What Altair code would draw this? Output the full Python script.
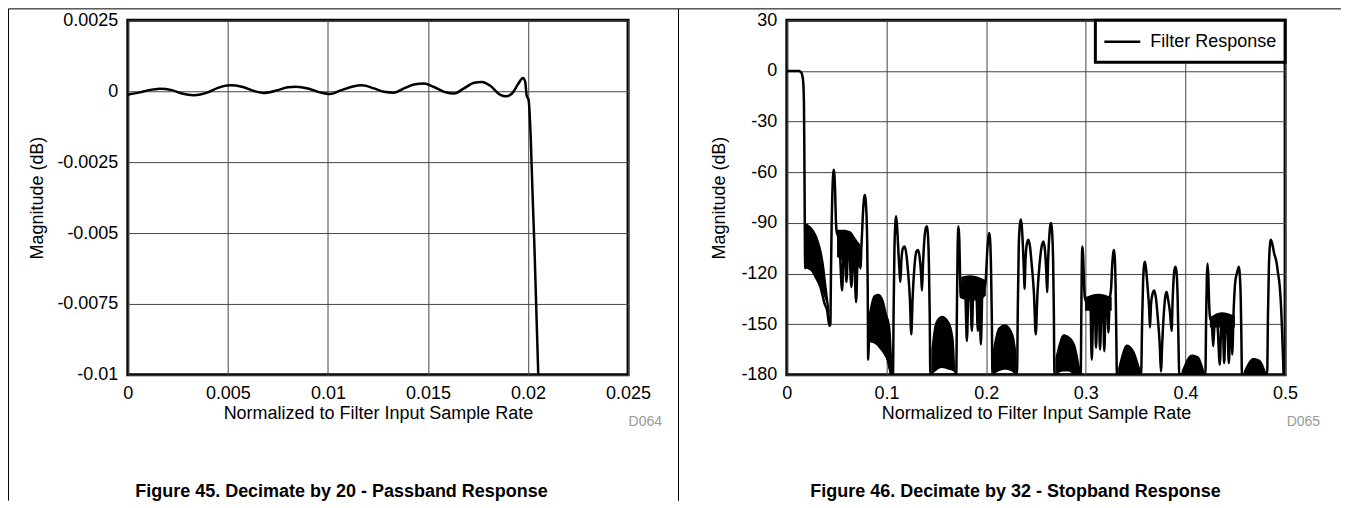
import altair as alt
import pandas as pd

FONT = "Liberation Sans"

# ---------------- Left panel: Decimate by 20, passband ----------------
pass_freq = [0.0000, 0.0006, 0.0010, 0.0016, 0.0022, 0.0027, 0.0033, 0.0040, 0.0045, 0.0051,
             0.0057, 0.0063, 0.0068, 0.0075, 0.0080, 0.0084, 0.0090, 0.0096, 0.0101, 0.0106,
             0.0112, 0.0117, 0.0123, 0.0128, 0.0133, 0.0138, 0.0143, 0.0148, 0.0153, 0.0159,
             0.0163, 0.0168, 0.0173, 0.0177, 0.0181, 0.0186, 0.0189, 0.0192, 0.0195, 0.0197,
             0.01975, 0.01986, 0.01993, 0.02003, 0.02014, 0.02022, 0.02032, 0.02041, 0.02051, 0.02056]
pass_mag = [-0.00012, -0.00004, 0.00003, 0.00009, 0.00004, -0.00008, -0.00014, -0.00004, 0.00012, 0.00021,
            0.00016, 0.00001, -0.00006, 0.00004, 0.00014, 0.00016, 0.00010, -0.00004, -0.00010, 0.00002,
            0.00016, 0.00021, 0.00010, -0.00002, -0.00005, 0.00010, 0.00024, 0.00027, 0.00015, -0.00004,
            -0.00008, 0.00010, 0.00030, 0.00033, 0.00020, -0.00012, -0.00018, -0.00008, 0.00025, 0.00045,
            0.00047, 0.00033, -0.00014, -0.00032, -0.00173, -0.00349, -0.00548, -0.00760, -0.00994, -0.0110]

pass_x_ticks = [0, 0.005, 0.01, 0.015, 0.02, 0.025]
pass_y_ticks = [-0.01, -0.0075, -0.005, -0.0025, 0, 0.0025]

# ---------------- Right panel: Decimate by 32, stopband ----------------
stop_freq = [
    0.0000, 0.0120, 0.0140, 0.0155, 0.0165, 0.0172, 0.0176, 0.0180, 0.0184,
    0.0187, 0.0200, 0.0250, 0.0300, 0.0337, 0.0380, 0.0405, 0.0427,
    0.0437, 0.0443, 0.0450, 0.0457, 0.0464, 0.0471, 0.0478, 0.0485, 0.0492, 0.0500,
    0.0525, 0.0555, 0.0575, 0.0598, 0.0620, 0.0648, 0.0670, 0.0695, 0.0715, 0.0738, 0.0750,
    0.0758, 0.0767, 0.0775, 0.0782, 0.0789, 0.0797, 0.0806, 0.0812, 0.0816,
    0.0825, 0.1000, 0.1055, 0.1065,
    0.1072, 0.1080, 0.1088, 0.1096, 0.1106, 0.1118, 0.1130, 0.1139, 0.1150, 0.1165, 0.1182,
    0.1198, 0.1215, 0.1235, 0.1249, 0.1262, 0.1282, 0.1300, 0.1316, 0.1332, 0.1347, 0.1356,
    0.1366, 0.1380, 0.1395, 0.1406, 0.1416, 0.1426, 0.1434, 0.1440,
    0.1700,
    0.1707, 0.1714, 0.1723, 0.1731, 0.1738, 0.1745,
    0.1770, 0.1790, 0.1807, 0.1825, 0.1840, 0.1857, 0.1875, 0.1900, 0.1917, 0.1930, 0.1947,
    0.1965, 0.1990, 0.2000,
    0.2010, 0.2022, 0.2031, 0.2040, 0.2050, 0.2058, 0.2063,
    0.2310,
    0.2318, 0.2327, 0.2337, 0.2348, 0.2358, 0.2370, 0.2380, 0.2385, 0.2395, 0.2410, 0.2425,
    0.2440, 0.2458, 0.2480, 0.2498, 0.2515, 0.2537, 0.2557, 0.2575, 0.2590, 0.2603, 0.2612,
    0.2622, 0.2635, 0.2645, 0.2652, 0.2662, 0.2672, 0.2680, 0.2685,
    0.2950,
    0.2955, 0.2960, 0.2966, 0.2974, 0.2982, 0.2990,
    0.3020, 0.3045, 0.3060, 0.3078, 0.3090, 0.3103, 0.3118, 0.3130, 0.3143, 0.3160, 0.3172,
    0.3186, 0.3200, 0.3215, 0.3226, 0.3240, 0.3255, 0.3265,
    0.3275, 0.3283, 0.3292, 0.3300, 0.3307, 0.3312,
    0.3555,
    0.3565, 0.3575, 0.3585, 0.3594, 0.3604, 0.3620, 0.3635, 0.3644, 0.3655, 0.3670, 0.3687,
    0.3705, 0.3725, 0.3742, 0.3754, 0.3768, 0.3785, 0.3800, 0.3811, 0.3825, 0.3845, 0.3861,
    0.3872, 0.3885, 0.3895, 0.3901, 0.3912, 0.3922, 0.3930, 0.3938,
    0.4200,
    0.4208, 0.4215, 0.4222, 0.4230, 0.4238, 0.4245,
    0.4265, 0.4279, 0.4295, 0.4320, 0.4345, 0.4362, 0.4375, 0.4389, 0.4405, 0.4420, 0.4436,
    0.4452, 0.4460, 0.4469, 0.4485, 0.4500,
    0.4520, 0.4536, 0.4545, 0.4555, 0.4562, 0.4567,
    0.4820,
    0.4828, 0.4838, 0.4848, 0.4856, 0.4870, 0.4890, 0.4913, 0.4930, 0.4947, 0.4960, 0.4970,
    0.4985, 0.5000,
]
stop_mag = [
    0, 0, -0.5, -2.5, -7, -20, -50, -90, -117,
    -95, -116, -118, -123, -128, -138, -142, -151,
    -150, -120, -90, -72, -62, -58.5, -62, -72, -88, -95,
    -100, -130, -96, -125, -96, -128, -100, -137, -104, -117, -102,
    -92, -81, -75.5, -73.5, -75.5, -82, -100, -130, -171,
    -160, -168, -180, -180,
    -140, -105, -91, -86, -92, -105, -118, -125, -112, -105, -104,
    -108, -118, -135, -156, -135, -115, -107, -106, -110, -120, -130,
    -115, -100, -93, -92, -97, -115, -145, -180,
    -180,
    -140, -105, -92, -100, -120, -134,
    -125, -130, -160, -125, -128, -154, -124, -127, -154, -126, -162,
    -126, -128, -120,
    -108, -99, -96, -100, -120, -150, -180,
    -180,
    -140, -105, -92, -88, -92, -105, -120, -129, -112, -102, -100,
    -104, -115, -132, -156, -132, -114, -104, -101, -106, -118, -131,
    -112, -97, -91, -90, -95, -112, -145, -180,
    -180,
    -145, -115, -104, -110, -125, -134,
    -138, -136, -171, -137, -138, -164, -135, -138, -165, -136, -138,
    -166, -137, -138, -155, -136, -128, -115,
    -108, -106, -112, -130, -160, -180,
    -180,
    -150, -125, -115, -113, -117, -128, -140, -152, -138, -132, -130,
    -135, -148, -162, -178, -160, -142, -133, -131, -135, -143, -154,
    -135, -120, -116.5, -116, -120, -135, -160, -180,
    -180,
    -145, -122, -114, -122, -138, -145,
    -150, -163, -147, -150, -174, -146, -150, -173, -146, -150, -173,
    -147, -150, -168, -140, -125,
    -119, -116, -120, -135, -160, -180,
    -180,
    -145, -115, -103, -100, -102, -108, -113, -120, -128, -140, -154,
    -180, -200,
]

# dense ripple regions drawn as filled envelopes (upper / lower edge)
band_id = (["b1"] * 7 + ["d1"] * 5 + ["b2"] * 7 + ["b3"] * 6 + ["d2"] * 4 + ["b4"] * 6
           + ["b5"] * 5 + ["d3"] * 3 + ["b6"] * 4 + ["b7"] * 4 + ["d4"] * 3 + ["b8"] * 4)
band_freq = [0.0187, 0.0237, 0.0287, 0.0337, 0.0371, 0.0404, 0.0427,
             0.0504, 0.0571, 0.0638, 0.0688, 0.0738,
             0.0822, 0.0872, 0.0922, 0.0972, 0.1005, 0.1039, 0.1055,
             0.1450, 0.1490, 0.1556, 0.1623, 0.1673, 0.1690,
             0.1750, 0.1840, 0.1924, 0.1997,
             0.2068, 0.2124, 0.2191, 0.2258, 0.2298, 0.2306,
             0.2695, 0.2776, 0.2826, 0.2892, 0.2943,
             0.2993, 0.3126, 0.3260,
             0.3325, 0.3410, 0.3477, 0.3544,
             0.3961, 0.4061, 0.4128, 0.4195,
             0.4245, 0.4362, 0.4496,
             0.4585, 0.4679, 0.4746, 0.4813]
band_hi = [-90, -92, -96, -104, -114, -130, -141,
           -94, -94, -95, -99, -103,
           -144, -133, -132, -136, -144, -152, -168,
           -165, -149, -145, -148, -158, -176,
           -122, -121, -122, -124,
           -165, -152, -150, -154, -164, -178,
           -170, -156, -157, -162, -176,
           -134, -132, -134,
           -176, -162, -165, -176,
           -178, -168, -169, -179,
           -146, -143, -145,
           -178, -170, -171, -179]
band_lo = [-117, -118, -123, -128, -133, -140, -150,
           -110, -112, -112, -115, -117,
           -161, -160, -164, -168, -172, -180, -180,
           -180, -178, -176, -177, -178, -180,
           -135, -136, -136, -133,
           -180, -178, -177, -178, -180, -180,
           -180, -178, -178, -180, -180,
           -142, -142, -142,
           -180, -180, -180, -180,
           -180, -180, -180, -180,
           -152, -152, -152,
           -180, -180, -180, -180]

stop_x_ticks = [0, 0.1, 0.2, 0.3, 0.4, 0.5]
stop_y_ticks = [-180, -150, -120, -90, -60, -30, 0, 30]

x_title = "Normalized to Filter Input Sample Rate"
y_title = "Magnitude (dB)"
legend_label = "Filter Response"
captions = ["Figure 45. Decimate by 20 - Passband Response",
            "Figure 46. Decimate by 32 - Stopband Response"]
codes = ["D064", "D065"]

W_L, W_R, H = 501, 499, 355
LABEL_EXPR = "datum.value + ''"

one = pd.DataFrame({"k": [0]})


def text_mark(txt, x, y, size, bold=False, color="black", align="center"):
    return alt.Chart(pd.DataFrame({"t": [txt]})).mark_text(
        font=FONT, fontSize=size, fontWeight="bold" if bold else "normal",
        color=color, align=align, baseline="middle"
    ).encode(x=alt.value(x), y=alt.value(y), text="t:N")


def vrule(x, y1, y2, w=1):
    return alt.Chart(one).mark_rule(color="black", strokeWidth=w).encode(
        x=alt.value(x), y=alt.value(y1), y2=alt.value(y2))


def hrule(x1, x2, y, w=1):
    return alt.Chart(one).mark_rule(color="black", strokeWidth=w).encode(
        x=alt.value(x1), x2=alt.value(x2), y=alt.value(y))


# ---- left chart ----
left_df = pd.DataFrame({"f": pass_freq, "m": pass_mag})
lx = alt.X("f:Q", scale=alt.Scale(domain=[0, 0.025], nice=False, zero=False),
           axis=alt.Axis(values=pass_x_ticks, title=x_title, labelExpr=LABEL_EXPR))
ly = alt.Y("m:Q", scale=alt.Scale(domain=[-0.01, 0.0025], nice=False, zero=False),
           axis=alt.Axis(values=pass_y_ticks, title=y_title, labelExpr=LABEL_EXPR,
                         titlePadding=10))
left_line = alt.Chart(left_df).mark_line(
    color="black", strokeWidth=2.5, clip=True, interpolate="monotone"
).encode(x=lx, y=ly)

left = alt.layer(
    left_line,
    text_mark(codes[0], 535, 402, 14, color="#9a9a9a", align="right"),
    text_mark(captions[0], 214, 472, 18, bold=True),
    vrule(-119.5, -11.5, 481),
    vrule(551.5, -11.5, 481),
    hrule(-119.5, 551.5, -11.5),
).properties(width=W_L, height=H)

# ---- right chart ----
stop_df = pd.DataFrame({"f": stop_freq, "m": stop_mag})
band_df = pd.DataFrame({"id": band_id, "f": band_freq, "hi": band_hi, "lo": band_lo})

rxs = alt.Scale(domain=[0, 0.5], nice=False, zero=False)
rys = alt.Scale(domain=[-180, 30], nice=False, zero=False)
rx_axis = alt.Axis(values=stop_x_ticks, title=x_title, labelExpr=LABEL_EXPR)
ry_axis = alt.Axis(values=stop_y_ticks, title=y_title, labelExpr=LABEL_EXPR, titlePadding=12)

bands = alt.Chart(band_df).mark_area(color="black", clip=True, interpolate="monotone").encode(
    x=alt.X("f:Q", scale=rxs, axis=rx_axis),
    y=alt.Y("hi:Q", scale=rys, axis=ry_axis),
    y2="lo:Q",
    detail="id:N",
)

stop_line = alt.Chart(stop_df).mark_line(
    color="black", strokeWidth=2.5, clip=True, interpolate="monotone"
).encode(
    x=alt.X("f:Q", scale=rxs, axis=rx_axis),
    y=alt.Y("m:Q", scale=rys, axis=ry_axis),
)

legend_box = alt.Chart(one).mark_rect(fill="white", stroke="black", strokeWidth=3).encode(
    x=alt.value(309), x2=alt.value(W_R), y=alt.value(0), y2=alt.value(42))
legend_sym = hrule(318, 354, 21.5, w=2.5)
legend_txt = text_mark(legend_label, 364, 22, 18, align="left")

right = alt.layer(
    bands,
    stop_line,
    legend_box,
    legend_sym,
    legend_txt,
    text_mark(codes[1], 534, 402, 14, color="#9a9a9a", align="right"),
    text_mark(captions[1], 229, 472, 18, bold=True),
    vrule(-108.5, -11.5, 481),
    hrule(-108.5, 555, -11.5),
).properties(width=W_R, height=H)

chart = alt.hconcat(left, right, spacing=159, bounds="flush").properties(
    padding={"left": -2, "top": -2, "right": 0, "bottom": 0}
).configure_view(
    stroke="black", strokeWidth=3
).configure_axis(
    labelFont=FONT, labelFontSize=18, labelColor="black",
    titleFont=FONT, titleFontSize=18, titleFontWeight="normal", titleColor="black",
    grid=True, gridColor="#444444", gridWidth=1, gridOpacity=1,
    domain=False, ticks=False, tickSize=0, labelPadding=10,
    labelFlush=False, labelOverlap=False,
).configure_axisX(
    labelPadding=10, titlePadding=2
)

chart.save("out.html", embed_options={"renderer": "svg", "actions": False})
